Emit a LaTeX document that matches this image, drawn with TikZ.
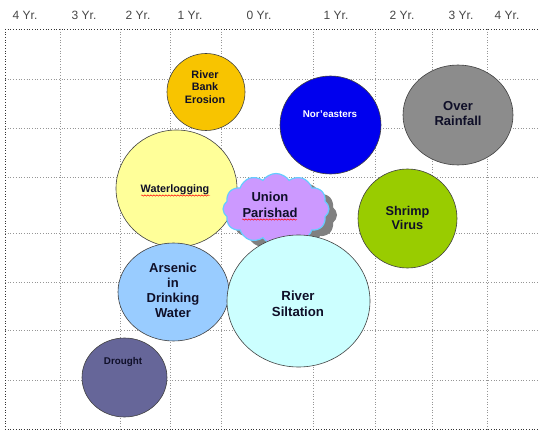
\documentclass[tikz,border=0pt]{standalone}
\usepackage{fontspec}
\setmainfont{Liberation Sans}
\usetikzlibrary{shapes.geometric,shapes.symbols,decorations.pathmorphing}
\definecolor{cRBE}{RGB}{248,196,0}
\definecolor{cNor}{RGB}{0,0,238}
\definecolor{cRain}{RGB}{140,140,140}
\definecolor{cWater}{RGB}{255,255,153}
\definecolor{cShrimp}{RGB}{153,204,0}
\definecolor{cArs}{RGB}{153,204,255}
\definecolor{cSilt}{RGB}{204,255,255}
\definecolor{cDrought}{RGB}{102,102,153}
\definecolor{cCloud}{RGB}{204,153,255}
\definecolor{cCloudEdge}{RGB}{102,204,255}
\definecolor{cShadow}{RGB}{128,128,128}
\definecolor{cText}{RGB}{15,15,40}
\definecolor{cGrid}{RGB}{150,150,150}
\definecolor{cYr}{RGB}{70,70,70}
\tikzset{
  gridline/.style={cGrid, dotted, line width=0.7pt},
  border/.style={black!80, dotted, line width=0.7pt},
  bub/.style={ellipse, draw=black!75, line width=0.6pt, inner sep=0pt},
  txt/.style={text=cText, align=center, inner sep=0pt, font=\bfseries},
  yr/.style={text=cYr, inner sep=0pt, font=\fontsize{12}{14}\selectfont},
  cloudsty/.style={cloud, cloud puffs=12, cloud puff arc=110, aspect=1.5, inner sep=0pt, minimum width=106pt, minimum height=71pt},
  squig/.style={red, line width=0.45pt, decorate, decoration={snake, segment length=3pt, amplitude=0.7pt}}
}
\begin{document}
\begin{tikzpicture}[x=1pt,y=-1pt]
\useasboundingbox (0,0) rectangle (540,430);
% grid
\foreach \x in {60,120,170,221,313,375,432,487} \draw[gridline] (\x,29) -- (\x,429);
\foreach \y in {79,128,177,233,282,330,380} \draw[gridline] (5,\y) -- (537,\y);
\draw[border] (5,29) -- (537,29);
\draw[border] (5,429) -- (537,429);
\draw[border] (5,29) -- (5,429);
% year labels
\node[yr] (y1) at (25,15) {4 Yr.};
\node[yr] (y2) at (84,15) {3 Yr.};
\node[yr] (y3) at (138,15) {2 Yr.};
\node[yr] (y4) at (190,15) {1 Yr.};
\node[yr] (y5) at (259,15) {0 Yr.};
\node[yr] (y6) at (336,15) {1 Yr.};
\node[yr] (y7) at (402,15) {2 Yr.};
\node[yr] (y8) at (461,15) {3 Yr.};
\node[yr] (y9) at (507,15) {4 Yr.};
% bubbles
\node[bub, fill=cRBE, minimum width=78pt, minimum height=77pt] (rbe) at (206,92) {};
\node[txt, font=\fontsize{10.8}{12.7}\selectfont\bfseries] (rbet) at (205,87) {River\\Bank\\Erosion};
\node[bub, fill=cNor, minimum width=101pt, minimum height=98pt] (nor) at (330.5,125) {};
\node[txt, text=white, font=\fontsize{9.8}{11}\selectfont\bfseries] (nort) at (330,114) {Nor'easters};
\node[bub, fill=cRain, minimum width=110pt, minimum height=100pt] (rain) at (458,115) {};
\node[txt, font=\fontsize{13}{15}\selectfont\bfseries] (raint) at (458,114) {Over\\Rainfall};
\node[bub, fill=cWater, minimum width=121pt, minimum height=117pt] (wl) at (176.5,188.5) {};
\node[txt, font=\fontsize{10.8}{13}\selectfont\bfseries] (wlt) at (175,190) {Waterlogging};
\draw[squig] (141,195.5) -- (210,195.5);
% cloud
\node[cloudsty, fill=cShadow, draw=none] (ups) at (284,215) {};
\node[cloudsty, fill=cCloud, draw=cCloudEdge, line width=1.2pt] (up) at (276,209) {};
\node[txt, font=\fontsize{13}{16}\selectfont\bfseries] (upt) at (270,205) {Union\\Parishad};
\draw[squig] (242,219.5) -- (297,219.5);
\node[bub, fill=cShrimp, minimum width=99pt, minimum height=99pt] (shr) at (407.5,218.5) {};
\node[txt, font=\fontsize{12.7}{14.7}\selectfont\bfseries] (shrt) at (407.5,218) {Shrimp\\Virus};
\node[bub, fill=cArs, minimum width=111pt, minimum height=98pt] (ars) at (173.5,292) {};
\node[txt, font=\fontsize{13}{15}\selectfont\bfseries] (arst) at (173,290) {Arsenic\\in\\Drinking\\Water};
\node[bub, fill=cSilt, minimum width=143pt, minimum height=132pt] (sil) at (298.5,301) {};
\node[txt, font=\fontsize{13.2}{16}\selectfont\bfseries] (silt) at (298,303.5) {River\\Siltation};
\node[bub, fill=cDrought, minimum width=85pt, minimum height=79pt] (dro) at (124.5,377.5) {};
\node[txt, font=\fontsize{9.8}{11}\selectfont\bfseries] (drot) at (123,362) {Drought};
\end{tikzpicture}
\end{document}
